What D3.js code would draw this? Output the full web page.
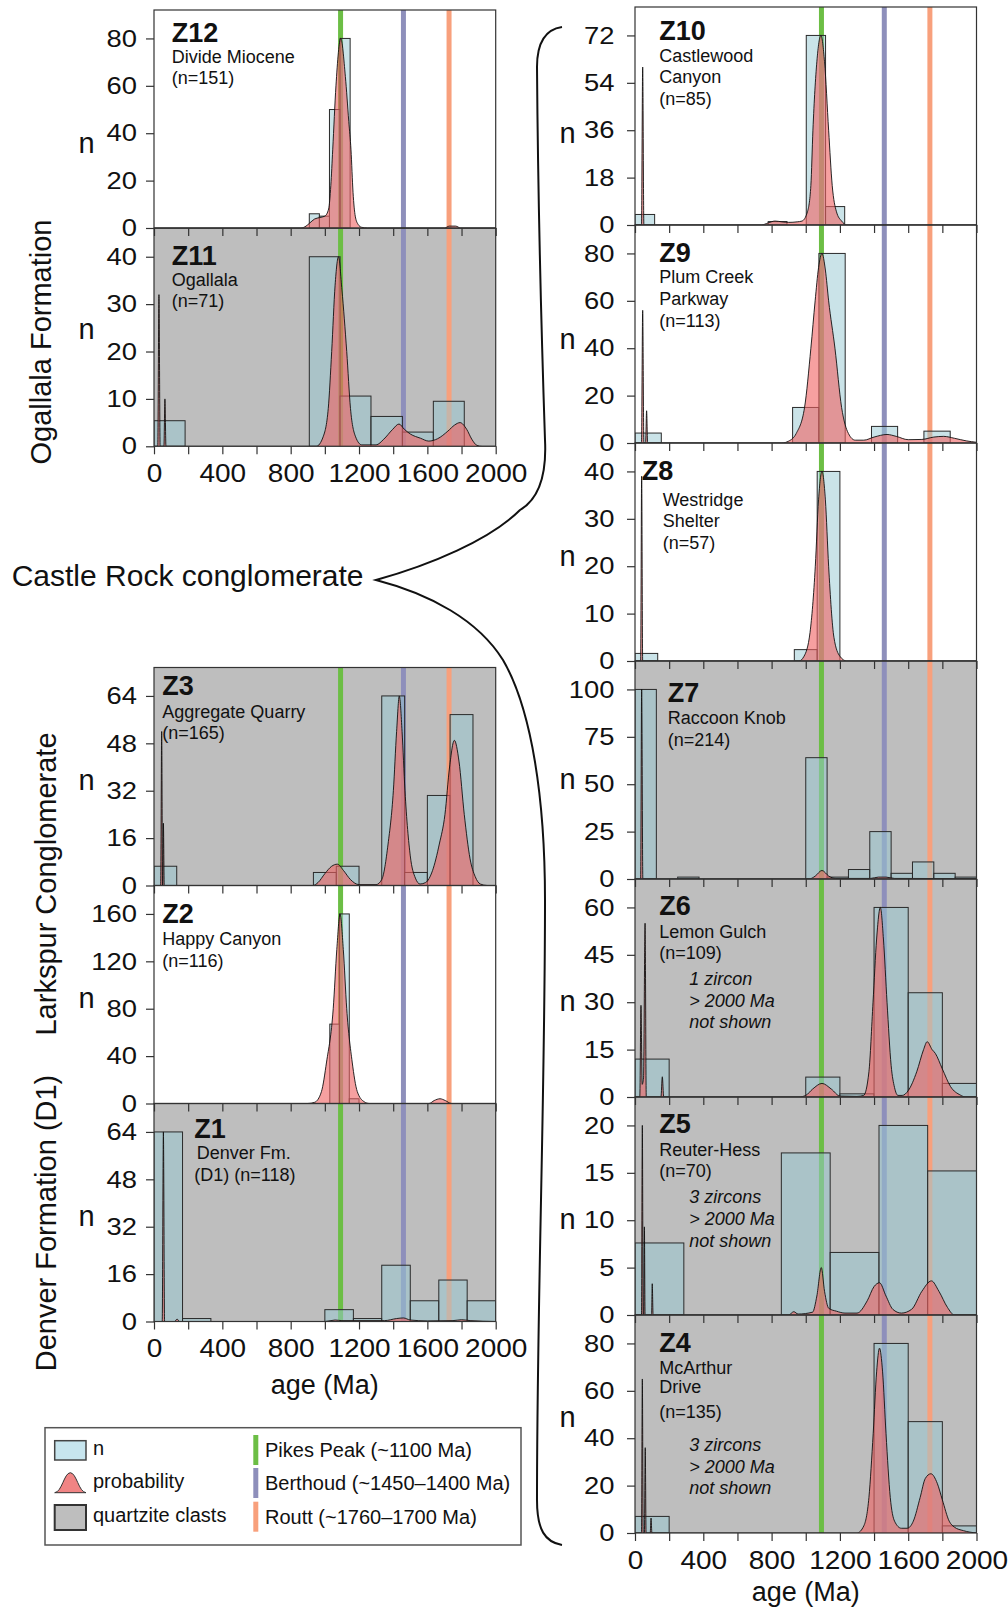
<!DOCTYPE html>
<html>
<head>
<meta charset="utf-8">
<script src="https://cdn.jsdelivr.net/npm/d3@7"></script>
<style>
  body { margin: 0; background: #fff; }
  svg { display: block; font-family: "Liberation Sans", Arial, sans-serif; }
</style>
</head>
<body>
<svg id="chart" width="1008" height="1613"></svg>
<script>
// age axis (Ma)
var ageTicks = [0, 200, 400, 600, 800, 1000, 1200, 1400, 1600, 1800, 2000];
var ageLabels = [0, 400, 800, 1200, 1600, 2000];

// reference source ages (Ma)
var refAges = [1092, 1460, 1727];
var refNames = ["Pikes Peak (~1100 Ma)", "Berthoud (~1450\u20131400 Ma)", "Routt (~1760\u20131700 Ma)"];
var refColors = ["#6cbe45", "#8e8fbb", "#f8a07c"];

// histogram bins: [from, to, n]   probability curves: [age, n]
var z12Bars = [[909, 968, 6], [968, 1027, 5], [1027, 1089, 50], [1089, 1148, 80]];
var z12Curve = [[0, 0], [860, 0], [890, 0.8], [910, 2], [940, 3.8], [970, 4.4], [1000, 5], [1022, 8], [1035, 18],
  [1046, 33], [1065, 60], [1093, 80], [1120, 64], [1140, 45], [1153, 33], [1165, 15], [1178, 5], [1195, 1.5],
  [1215, 0.3], [1250, 0], [1700, 0], [1730, 0.8], [1765, 0.8], [1795, 0], [2000, 0]];
var z12Ticks = [0, 20, 40, 60, 80];

var z11Bars = [[0, 182, 5.4], [909, 1089, 40], [1089, 1270, 10.6], [1270, 1454, 6.3], [1454, 1635, 3], [1635, 1816, 9.5]];
var z11Curve = [[0, 0], [22, 0], [29, 32], [36, 0], [58, 0], [64, 10], [70, 0], [950, 0], [990, 2], [1020, 8],
  [1040, 20], [1060, 34], [1080, 40], [1100, 33], [1128, 20], [1150, 8], [1180, 2], [1216, 0.3], [1300, 0.3],
  [1345, 1.5], [1395, 3.5], [1434, 4.7], [1465, 3.6], [1500, 2.6], [1560, 1.7], [1608, 1.1], [1660, 1.6],
  [1720, 3.2], [1760, 4.5], [1791, 5], [1830, 3.6], [1860, 1.5], [1890, 0.2], [1920, 0], [2000, 0]];
var z11Ticks = [0, 10, 20, 30, 40];

var z3Bars = [[0, 133, 6.5], [933, 1067, 4.4], [1067, 1200, 6.5], [1333, 1467, 64], [1467, 1600, 4.4],
  [1600, 1733, 30.4], [1733, 1867, 57.7]];
var z3Curve = [[0, 0], [39, 0], [45, 52], [50, 0], [51, 0], [55, 21], [60, 0], [930, 0], [960, 1], [1000, 4],
  [1040, 6.5], [1073, 7.2], [1110, 5], [1150, 2], [1200, 0.3], [1300, 0.3], [1333, 2], [1370, 14], [1401, 32],
  [1420, 52], [1436, 64], [1452, 52], [1469, 32], [1500, 10], [1530, 2.5], [1557, 0.5], [1590, 1], [1630, 5],
  [1670, 14], [1703, 24], [1730, 40], [1758, 49], [1785, 42], [1816, 24], [1850, 9], [1880, 3], [1910, 0.5],
  [1950, 0], [2000, 0]];
var z3Ticks = [0, 16, 32, 48, 64];

var z2Bars = [[1029, 1086, 67], [1086, 1143, 160], [1143, 1200, 4]];
var z2Curve = [[0, 0], [900, 0], [940, 1], [980, 10], [1010, 35], [1049, 80], [1070, 130], [1089, 160],
  [1108, 130], [1128, 80], [1160, 35], [1190, 10], [1230, 1.5], [1260, 0], [1610, 0], [1640, 2.5], [1674, 4],
  [1705, 2.5], [1740, 0], [2000, 0]];
var z2Ticks = [0, 40, 80, 120, 160];

var z1Bars = [[0, 167, 64], [167, 333, 1], [1000, 1167, 4], [1167, 1333, 1], [1333, 1500, 19], [1500, 1667, 7],
  [1667, 1833, 14], [1833, 2000, 7]];
var z1Curve = [[0, 0], [48, 0], [55, 64], [62, 0], [120, 0], [135, 0.8], [150, 0], [1000, 0], [1060, 0.5],
  [1100, 0.3], [1350, 0.3], [1420, 1], [1460, 1.2], [1500, 0.5], [1600, 0.2], [1750, 0.3], [1800, 0.6],
  [1850, 0.3], [2000, 0]];
var z1Ticks = [0, 16, 32, 48, 64];

var z10Bars = [[0, 115, 4], [780, 890, 1.3], [1003, 1116, 72], [1116, 1228, 7]];
var z10Curve = [[0, 0], [38, 0], [45, 60], [52, 0], [740, 0], [780, 0.8], [820, 1.5], [860, 1.2], [900, 1],
  [950, 1.2], [978, 1.5], [1010, 5], [1030, 15], [1042, 36], [1065, 62], [1089, 72], [1110, 62], [1134, 36],
  [1155, 15], [1180, 5], [1210, 1.5], [1240, 0], [2000, 0]];
var z10Ticks = [0, 18, 36, 54, 72];

var z9Bars = [[0, 154, 4.2], [923, 1077, 15], [1077, 1231, 80], [1385, 1538, 7], [1692, 1846, 5]];
var z9Curve = [[0, 0], [38, 0], [45, 56], [52, 0], [62, 0], [68, 13.6], [74, 0], [860, 0], [900, 0.8],
  [944, 4], [993, 15], [1030, 40], [1055, 60], [1075, 74], [1095, 80], [1115, 73], [1134, 60], [1171, 40],
  [1210, 15], [1250, 4], [1290, 1.2], [1340, 1.2], [1400, 2.5], [1476, 3.6], [1530, 2.8], [1600, 1.4],
  [1680, 1.5], [1750, 2.5], [1808, 2.8], [1870, 2], [1940, 0.9], [2000, 0.3]];
var z9Ticks = [0, 20, 40, 60, 80];

var z8Bars = [[0, 133, 1.6], [933, 1067, 2.4], [1067, 1200, 40]];
var z8Curve = [[0, 0], [33, 0], [39, 39], [45, 0], [960, 0], [990, 1], [1025, 6], [1056, 20], [1075, 34],
  [1095, 40], [1115, 34], [1134, 20], [1165, 5], [1200, 1], [1240, 0], [2000, 0]];
var z8Ticks = [0, 10, 20, 30, 40];

var z7Bars = [[0, 125, 100], [250, 375, 1], [1000, 1125, 64], [1125, 1250, 1], [1250, 1375, 5], [1375, 1500, 25],
  [1500, 1625, 3], [1625, 1750, 9], [1750, 1875, 3], [1875, 2000, 1]];
var z7Curve = [[0, 0], [33, 0], [39, 100], [46, 0], [1020, 0], [1055, 1.5], [1095, 4.5], [1135, 1.5],
  [1175, 0.3], [1380, 0.3], [1425, 1], [1470, 1], [1520, 0.3], [2000, 0.2]];
var z7Ticks = [0, 25, 50, 75, 100];

var z6Bars = [[0, 200, 12], [1000, 1200, 6.3], [1200, 1400, 1], [1400, 1600, 60], [1600, 1800, 33], [1800, 2000, 4.3]];
var z6Curve = [[0, 0], [28, 0], [35, 29], [42, 4], [50, 6], [59, 55], [66, 0], [152, 0], [160, 6.4], [168, 0],
  [960, 0], [1000, 0.5], [1040, 2.5], [1095, 4.3], [1150, 2.5], [1200, 0.3], [1300, 0.2], [1339, 0.5],
  [1370, 8], [1394, 30], [1415, 50], [1437, 60], [1455, 50], [1476, 30], [1500, 10], [1520, 3], [1540, 0.5],
  [1565, 0.5], [1600, 2], [1650, 8], [1690, 15], [1711, 17.5], [1740, 15], [1759, 13.8], [1799, 9],
  [1848, 3.3], [1906, 0.6], [1935, 0], [2000, 0]];
var z6Ticks = [0, 15, 30, 45, 60];

var z5Bars = [[0, 286, 7.6], [857, 1143, 17.1], [1143, 1429, 6.6], [1429, 1714, 20], [1714, 2000, 15.2]];
var z5Curve = [[0, 0], [38, 0], [43, 20], [48, 0], [51, 0], [55, 9.3], [59, 0], [97, 0], [101, 3.3], [106, 0],
  [900, 0], [930, 0.35], [955, 0.1], [1040, 0.3], [1065, 2], [1091, 5], [1110, 2.5], [1135, 0.7], [1180, 0.4],
  [1230, 0.2], [1300, 0.2], [1360, 1.5], [1400, 3], [1432, 3.4], [1470, 2], [1510, 0.6], [1560, 0.2],
  [1620, 0.6], [1680, 2.5], [1736, 3.6], [1780, 2.5], [1830, 0.8], [1870, 0], [2000, 0]];
var z5Ticks = [0, 5, 10, 15, 20];

var z4Bars = [[0, 200, 7], [1400, 1600, 80], [1600, 1800, 47], [1800, 2000, 3]];
var z4Curve = [[0, 0], [38, 0], [43, 65], [48, 0], [55, 0], [60, 36], [65, 0], [89, 0], [94, 6.3], [99, 0],
  [1300, 0], [1340, 3], [1370, 15], [1395, 42], [1415, 68], [1432, 78], [1450, 68], [1470, 42], [1495, 15],
  [1520, 5], [1560, 2], [1595, 2], [1630, 5], [1670, 15], [1700, 23], [1733, 25], [1770, 21], [1800, 14],
  [1840, 5], [1870, 2.5], [1923, 1], [2000, 0]];
var z4Ticks = [0, 20, 40, 60, 80];

// sample labels
var z12Label = ["Divide Miocene", "(n=151)"];
var z11Label = ["Ogallala", "(n=71)"];
var z3Label = ["Aggregate Quarry", "(n=165)"];
var z2Label = ["Happy Canyon", "(n=116)"];
var z1Label = ["Denver Fm.", "(D1) (n=118)"];
var z10Label = ["Castlewood", "Canyon", "(n=85)"];
var z9Label = ["Plum Creek", "Parkway", "(n=113)"];
var z8Label = ["Westridge", "Shelter", "(n=57)"];
var z7Label = ["Raccoon Knob", "(n=214)"];
var z6Label = ["Lemon Gulch", "(n=109)"];
var z5Label = ["Reuter-Hess", "(n=70)"];
var z4Label = ["McArthur", "Drive", "(n=135)"];
var note1 = ["1 zircon", "> 2000 Ma", "not shown"];
var note3 = ["3 zircons", "> 2000 Ma", "not shown"];

var groupNames = ["Ogallala Formation", "Larkspur Conglomerate", "Denver Formation (D1)"];

// layout
var PH = 218;
var xLeft = d3.scaleLinear().domain([0, 2000]).range([154, 495.7]);
var xRight = d3.scaleLinear().domain([0, 2000]).range([635, 976.5]);

var panels = [
  { id: "Z12", bars: z12Bars, curve: z12Curve, ticks: z12Ticks, col: 0, top: 10, grey: false, xlab: false, nY: 145,
    tx: 171.7, ty: 41.7, label: z12Label, lx: [171.7, 171.7], ly: [63, 83.5] },
  { id: "Z11", bars: z11Bars, curve: z11Curve, ticks: z11Ticks, col: 0, top: 228.3, grey: true, xlab: true, nY: 331.7,
    tx: 171.7, ty: 265, label: z11Label, lx: [171.7, 171.7], ly: [286, 307] },
  { id: "Z3", bars: z3Bars, curve: z3Curve, ticks: z3Ticks, col: 0, top: 667.5, grey: true, xlab: false, nY: 782,
    tx: 162.3, ty: 695, label: z3Label, lx: [162.3, 162.3], ly: [717.7, 739.3] },
  { id: "Z2", bars: z2Bars, curve: z2Curve, ticks: z2Ticks, col: 0, top: 885.5, grey: false, xlab: false, nY: 1000,
    tx: 162.3, ty: 922.7, label: z2Label, lx: [162.3, 162.3], ly: [945, 966.7] },
  { id: "Z1", bars: z1Bars, curve: z1Curve, ticks: z1Ticks, col: 0, top: 1103.5, grey: true, xlab: true, nY: 1218,
    tx: 194.3, ty: 1137.7, label: z1Label, lx: [196.7, 194.3], ly: [1159, 1181] },
  { id: "Z10", bars: z10Bars, curve: z10Curve, ticks: z10Ticks, col: 1, top: 7, grey: false, xlab: false, nY: 135,
    tx: 659.3, ty: 40, label: z10Label, lx: [659.3, 659.3, 659.3], ly: [61.7, 83, 105] },
  { id: "Z9", bars: z9Bars, curve: z9Curve, ticks: z9Ticks, col: 1, top: 225, grey: false, xlab: false, nY: 341.7,
    tx: 659.3, ty: 261.7, label: z9Label, lx: [659.3, 659.3, 659.3], ly: [283.3, 305, 327] },
  { id: "Z8", bars: z8Bars, curve: z8Curve, ticks: z8Ticks, col: 1, top: 443, grey: false, xlab: false, nY: 558.5,
    tx: 641.7, ty: 480, label: z8Label, lx: [662.7, 662.7, 662.7], ly: [505.7, 527.3, 549.3] },
  { id: "Z7", bars: z7Bars, curve: z7Curve, ticks: z7Ticks, col: 1, top: 661, grey: true, xlab: false, nY: 781.7,
    tx: 667.7, ty: 701.7, label: z7Label, lx: [667.7, 667.7], ly: [724.3, 746] },
  { id: "Z6", bars: z6Bars, curve: z6Curve, ticks: z6Ticks, col: 1, top: 879, grey: true, xlab: false, nY: 1003.5,
    tx: 659.3, ty: 915, label: z6Label, lx: [659.3, 659.3], ly: [938.3, 959.3],
    note: note1, nx: 689.3, nyy: [985, 1006.7, 1028.3] },
  { id: "Z5", bars: z5Bars, curve: z5Curve, ticks: z5Ticks, col: 1, top: 1097, grey: true, xlab: false, nY: 1221.7,
    tx: 659.3, ty: 1132.7, label: z5Label, lx: [659.3, 659.3], ly: [1155.7, 1177.3],
    note: note3, nx: 689.3, nyy: [1203.3, 1225, 1246.7] },
  { id: "Z4", bars: z4Bars, curve: z4Curve, ticks: z4Ticks, col: 1, top: 1315, grey: true, xlab: true, nY: 1419,
    tx: 659.3, ty: 1351.7, label: z4Label, lx: [659.3, 659.3, 659.3], ly: [1374, 1392.7, 1418.3],
    note: note3, nx: 689.3, nyy: [1450.7, 1472.7, 1494.3] }
];

var svg = d3.select("#chart");

function xOf(p) { return p.col === 0 ? xLeft : xRight; }
function yOf(p) {
  var top = p.ticks[p.ticks.length - 1];
  return d3.scaleLinear().domain([0, top * 1.15]).range([p.top + PH, p.top]);
}

// backgrounds
panels.forEach(function (p) {
  var x = xOf(p);
  svg.append("rect")
    .attr("x", x(0)).attr("y", p.top)
    .attr("width", x(2000) - x(0)).attr("height", PH)
    .attr("fill", p.grey ? "#bebebe" : "#fff");
});

// marks
panels.forEach(function (p, i) {
  var x = xOf(p), y = yOf(p);
  var clipId = "clip" + i;
  svg.append("clipPath").attr("id", clipId)
    .append("rect")
    .attr("x", x(0)).attr("y", p.top)
    .attr("width", x(2000) - x(0)).attr("height", PH);
  var g = svg.append("g").attr("clip-path", "url(#" + clipId + ")");

  // source age lines
  g.selectAll("line.ref")
    .data(refAges)
    .join("line")
    .attr("class", "ref")
    .attr("x1", function (d) { return x(d); })
    .attr("x2", function (d) { return x(d); })
    .attr("y1", p.top).attr("y2", p.top + PH)
    .attr("stroke", function (d, k) { return refColors[k]; })
    .attr("stroke-width", 5);

  // histogram
  g.selectAll("rect.bar")
    .data(p.bars)
    .join("rect")
    .attr("class", "bar")
    .attr("x", function (d) { return x(d[0]); })
    .attr("y", function (d) { return y(d[2]); })
    .attr("width", function (d) { return x(d[1]) - x(d[0]); })
    .attr("height", function (d) { return y(0) - y(d[2]); })
    .attr("fill", "rgb(150,200,210)")
    .attr("fill-opacity", 0.5)
    .attr("stroke", "#2a2a2a")
    .attr("stroke-width", 1);

  // probability curve
  var area = d3.area()
    .x(function (d) { return x(d[0]); })
    .y0(y(0))
    .y1(function (d) { return y(d[1]); })
    .curve(d3.curveMonotoneX);
  var line = d3.line()
    .x(function (d) { return x(d[0]); })
    .y(function (d) { return y(d[1]); })
    .curve(d3.curveMonotoneX);
  g.append("path").datum(p.curve)
    .attr("d", area)
    .attr("fill", "rgb(240,96,96)")
    .attr("fill-opacity", 0.6);
  g.append("path").datum(p.curve)
    .attr("d", line)
    .attr("fill", "none")
    .attr("stroke", "#111")
    .attr("stroke-width", 0.9);
});

// frames, axes and labels
panels.forEach(function (p) {
  var x = xOf(p), y = yOf(p);

  svg.append("rect")
    .attr("x", x(0)).attr("y", p.top)
    .attr("width", x(2000) - x(0)).attr("height", PH)
    .attr("fill", "none")
    .attr("stroke", "#333")
    .attr("stroke-width", 1.2);

  // tick numbers are set a little wider than the font, as in the figure
  var ya = svg.append("g")
    .attr("transform", "translate(" + x(0) + ",0)")
    .call(d3.axisLeft(y).tickValues(p.ticks).tickSize(8).tickPadding(0));
  ya.select(".domain").remove();
  ya.selectAll("line").attr("stroke", "#333").attr("stroke-width", 1.2);
  ya.selectAll("text")
    .attr("font-size", 24).attr("font-family", "Liberation Sans, Arial, sans-serif").attr("fill", "#111")
    .attr("x", null)
    .attr("transform", "translate(" + (p.col === 0 ? -17 : -20.5) + ",0) scale(1.14,1)");

  var xa = svg.append("g")
    .attr("transform", "translate(0," + (p.top + PH) + ")")
    .call(d3.axisBottom(x).tickValues(ageTicks).tickSize(8).tickPadding(10)
      .tickFormat(function (d) { return p.xlab && ageLabels.indexOf(d) >= 0 ? d : ""; }));
  xa.select(".domain").remove();
  xa.selectAll("line").attr("stroke", "#333").attr("stroke-width", 1.2);
  xa.selectAll("text")
    .attr("font-size", 25).attr("font-family", "Liberation Sans, Arial, sans-serif").attr("fill", "#111")
    .attr("transform", "scale(1.12,1)");

  // n label
  svg.append("text")
    .attr("x", p.col === 0 ? 86.5 : 567.5)
    .attr("y", p.nY + 7.5)
    .attr("text-anchor", "middle")
    .attr("font-size", 29)
    .attr("fill", "#111")
    .text("n");

  svg.append("text")
    .attr("x", p.tx).attr("y", p.ty)
    .attr("font-size", 27).attr("font-weight", "bold")
    .attr("fill", "#111")
    .text(p.id);

  p.label.forEach(function (s, k) {
    svg.append("text")
      .attr("x", p.lx[k]).attr("y", p.ly[k])
      .attr("font-size", 18).attr("fill", "#111")
      .text(s);
  });

  if (p.note) {
    p.note.forEach(function (s, k) {
      svg.append("text")
        .attr("x", p.nx).attr("y", p.nyy[k])
        .attr("font-size", 18).attr("font-style", "italic").attr("fill", "#111")
        .text(s);
    });
  }
});

// x axis titles
svg.append("text")
  .attr("x", (xLeft(0) + xLeft(2000)) / 2).attr("y", 1394)
  .attr("text-anchor", "middle").attr("font-size", 27).attr("fill", "#111")
  .text("age (Ma)");
svg.append("text")
  .attr("x", (xRight(0) + xRight(2000)) / 2).attr("y", 1601)
  .attr("text-anchor", "middle").attr("font-size", 27).attr("fill", "#111")
  .text("age (Ma)");

// formation labels (rotated)
var groupPos = [[51, 342], [56, 884], [56, 1223]];
groupNames.forEach(function (s, k) {
  svg.append("text")
    .attr("transform", "translate(" + groupPos[k][0] + "," + groupPos[k][1] + ") rotate(-90)")
    .attr("text-anchor", "middle")
    .attr("font-size", 29)
    .attr("fill", "#111")
    .text(s);
});

// Castle Rock bracket
svg.append("text")
  .attr("x", 11.7).attr("y", 586)
  .attr("font-size", 30).attr("fill", "#111")
  .text("Castle Rock conglomerate");

svg.append("path")
  .attr("d", "M562,27 C548,29 537,40 537,67 C538,200 542,350 545,440 C547,480 537,500 520,510 " +
    "C490,540 430,565 376,580 C430,594 478,620 503,660 C532,710 545,800 545,900 " +
    "C545,1100 537,1300 537,1500 C537,1530 545,1542 562,1545")
  .attr("fill", "none")
  .attr("stroke", "#111")
  .attr("stroke-width", 2);

// legend
var lg = svg.append("g");
lg.append("rect")
  .attr("x", 45).attr("y", 1427.7).attr("width", 476).attr("height", 117.3)
  .attr("fill", "#fff").attr("stroke", "#555").attr("stroke-width", 1.5);
lg.append("rect")
  .attr("x", 54.7).attr("y", 1440.7).attr("width", 31.3).attr("height", 19.3)
  .attr("fill", "#c7e5ee").attr("stroke", "#444").attr("stroke-width", 1.5);
lg.append("path")
  .attr("d", "M54.7,1492.7 C62,1492 64,1473 70.3,1472.7 C76.6,1473 78.6,1492 86,1492.7 Z")
  .attr("fill", "#f08484").attr("stroke", "#333").attr("stroke-width", 1);
lg.append("rect")
  .attr("x", 54.7).attr("y", 1505).attr("width", 31.3).attr("height", 25)
  .attr("fill", "#bebebe").attr("stroke", "#333").attr("stroke-width", 2);
var legendLeft = ["n", "probability", "quartzite clasts"];
var legendLeftY = [1455, 1488.3, 1521.7];
legendLeft.forEach(function (s, k) {
  lg.append("text").attr("x", 93).attr("y", legendLeftY[k])
    .attr("font-size", 20).attr("fill", "#111").text(s);
});
var legendRefY = [1435, 1468, 1501.7];
var legendRefBase = [1456.7, 1490, 1524];
refNames.forEach(function (s, k) {
  lg.append("rect").attr("x", 253.3).attr("y", legendRefY[k]).attr("width", 5).attr("height", 30)
    .attr("fill", refColors[k]);
  lg.append("text").attr("x", 265).attr("y", legendRefBase[k])
    .attr("font-size", 20).attr("fill", "#111").text(s);
});
</script>
</body>
</html>
